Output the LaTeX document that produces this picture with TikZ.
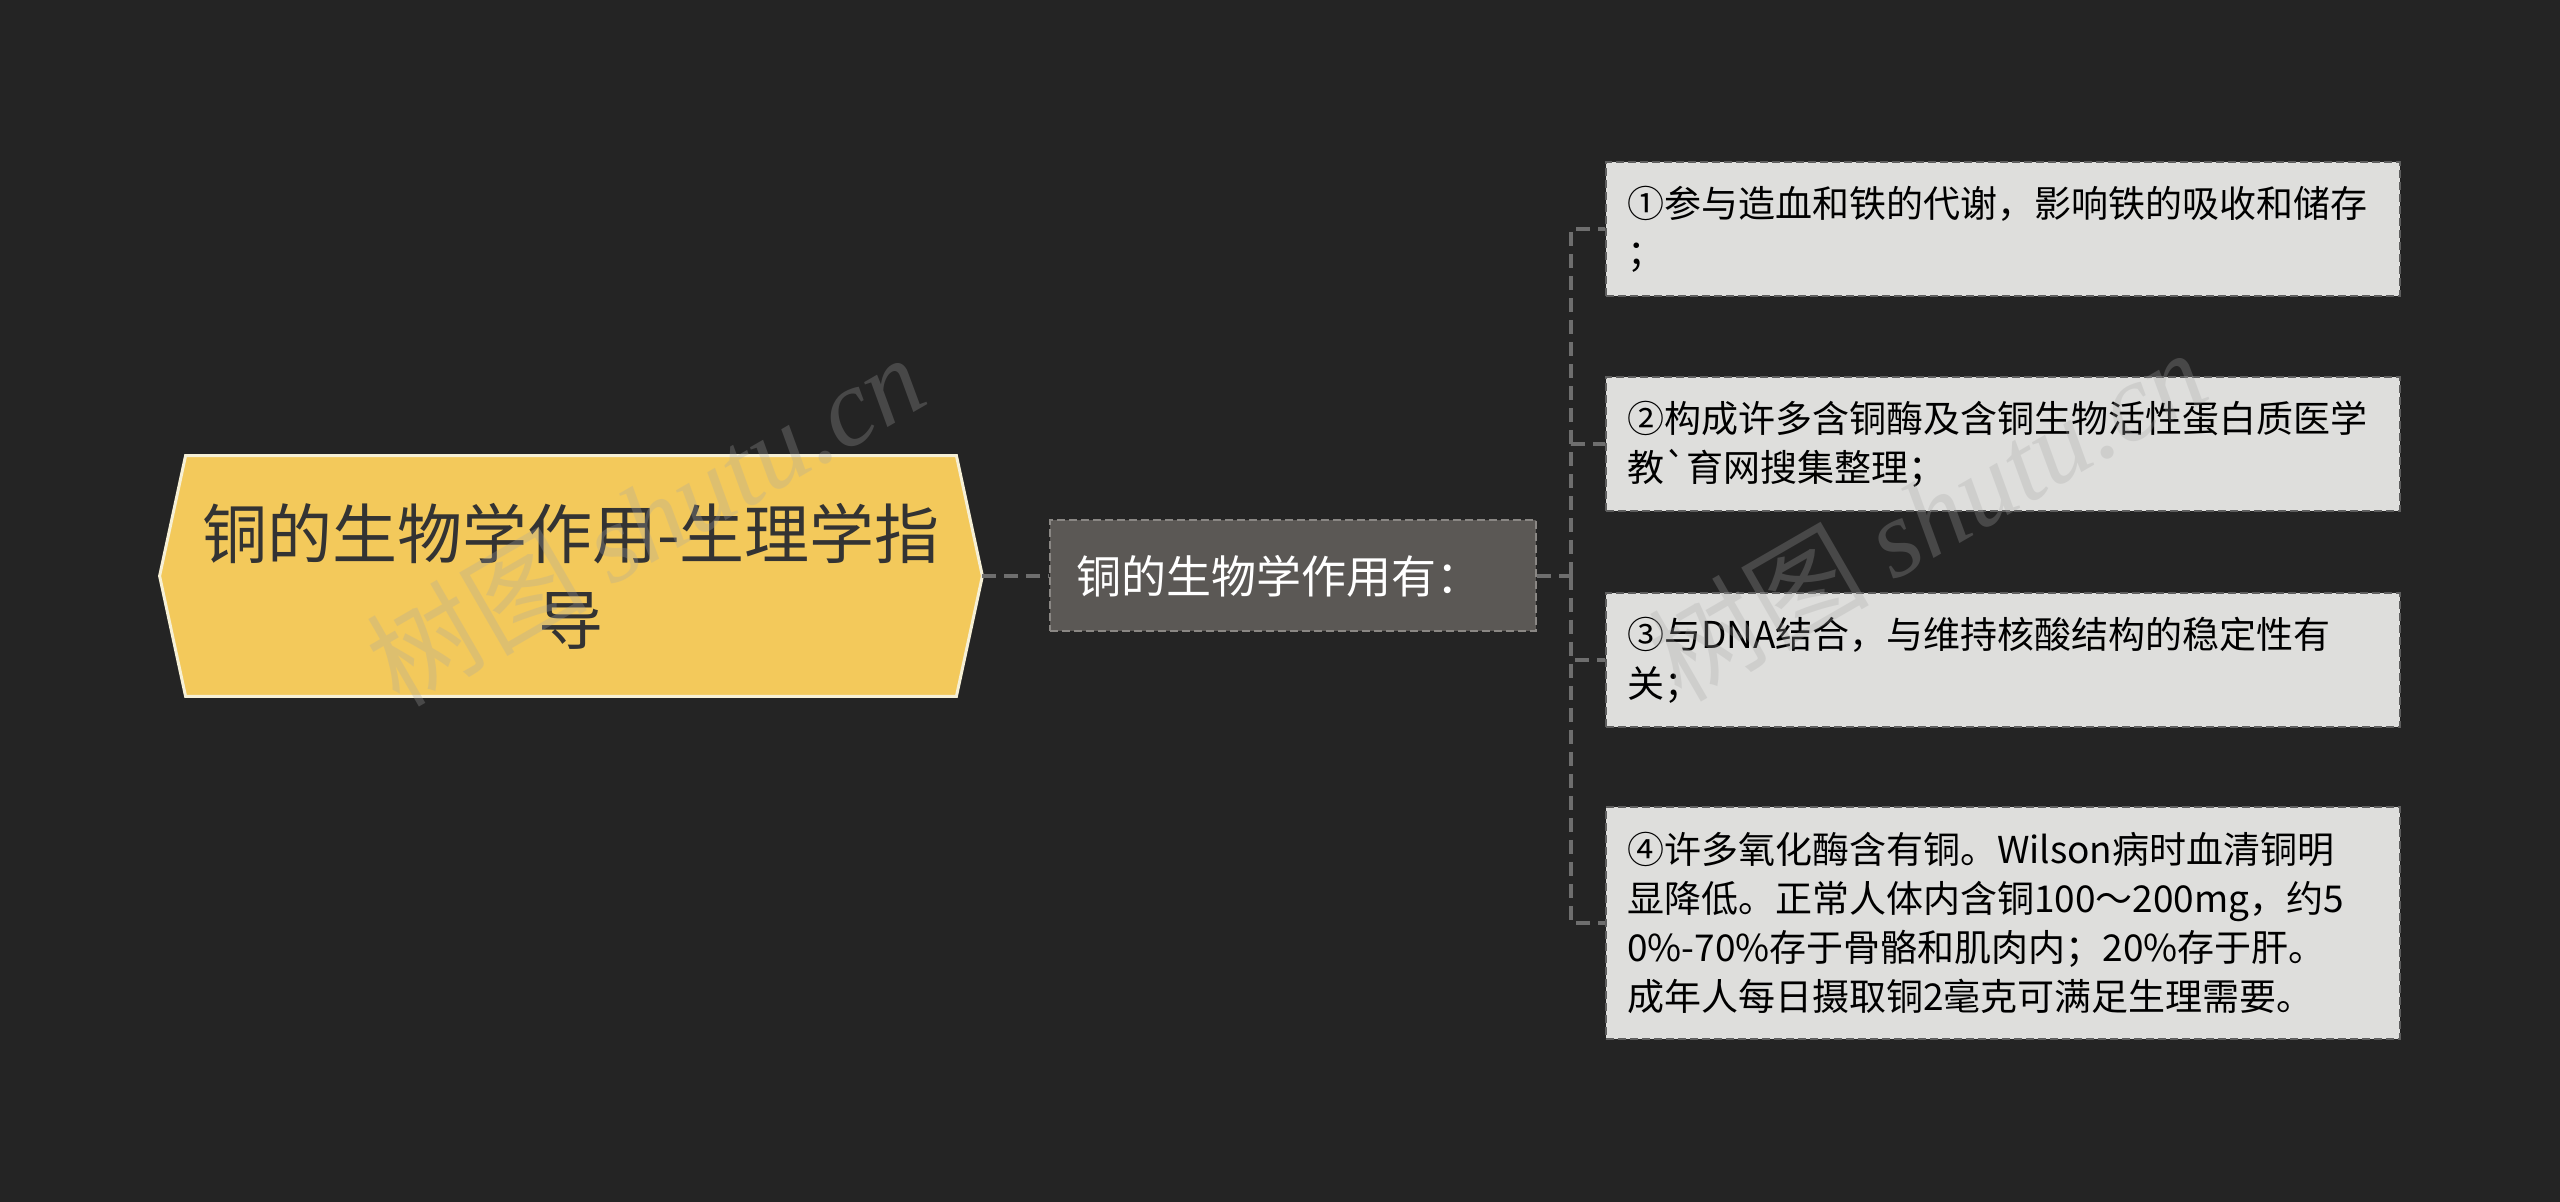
\documentclass[tikz,border=0pt]{standalone}
\usepackage{fontspec}
\setmainfont{Noto Sans CJK SC}
\newfontfamily\wmserif{Liberation Serif}
\usepackage{xcolor}
\usetikzlibrary{calc,backgrounds}
\definecolor{bg}{HTML}{242424}
\definecolor{gold}{HTML}{F3C95B}
\definecolor{goldedge}{HTML}{F6F0D6}
\definecolor{subfill}{HTML}{5B5855}
\definecolor{subedge}{HTML}{8A8784}
\definecolor{leaffill}{HTML}{DEDEDC}
\definecolor{leafedge}{HTML}{5E5E5E}
\definecolor{linkc}{HTML}{6E6E6E}

\begin{document}
\begin{tikzpicture}[x=0.5pt,y=-0.5pt,
  r/.style={inner sep=0pt,minimum width=411pt,minimum height=120pt,align=center,text=black!80,font=\fontsize{32.5pt}{43pt}\selectfont},
  sb/.style={fill=subfill,draw=subedge,dash pattern=on 4pt off 2pt,line width=1pt,text=white,inner xsep=13pt,text width=217pt,minimum height=55.5pt,align=left,font=\fontsize{22.5pt}{28pt}\selectfont},
  lf/.style={fill=leaffill,draw=leafedge,dash pattern=on 4pt off 2pt,line width=1pt,text=black,inner xsep=10.5pt,text width=376pt,align=left,anchor=west,font=\fontsize{18.5pt}{24.5pt}\selectfont},
  a/.style={draw=linkc,line width=1.6pt,dash pattern=on 7pt off 4pt},
  wm/.style={rotate=30,opacity=0.28,text=gray!70,font=\fontsize{55pt}{55pt}\selectfont}]
\node[r] (root) at (571,576) {铜的生物学作用-生理学指\\导};
\begin{scope}[on background layer]
\fill[bg] (0,0) rectangle (2560,1202);
\filldraw[fill=gold,draw=goldedge,line width=1.5pt] (root.west) -- ($(root.north west)+(26,0)$) -- ($(root.north east)+(-26,0)$) -- (root.east) -- ($(root.south east)+(-26,0)$) -- ($(root.south west)+(26,0)$) -- cycle;
\end{scope}
\node[sb] (sub) at (1293,576) {铜的生物学作用有：};
\node[lf,minimum height=67pt] (b1) at (1605,229) {①参与造血和铁的代谢，影响铁的吸收和储存\\；};
\node[lf,minimum height=67pt] (b2) at (1605,444) {②构成许多含铜酶及含铜生物活性蛋白质医学\\教\textasciigrave 育网搜集整理；};
\node[lf,minimum height=67pt] (b3) at (1605,660) {③与DNA结合，与维持核酸结构的稳定性有\\关；};
\node[lf,minimum height=116pt] (b4) at (1605,923) {④许多氧化酶含有铜。Wilson病时血清铜明\\显降低。正常人体内含铜100～200mg，约5\\0\%-70\%存于骨骼和肌肉内；20\%存于肝。\\成年人每日摄取铜2毫克可满足生理需要。};
\coordinate (fork) at (1571,576);
\draw[a] (root.east) -- (sub.west);
\draw[a] (sub.east) -- (fork);
\foreach \n in {b1,b2,b3,b4}
  \draw[a] (fork) |- (\n.west);
\node[wm] (wm1) at (645,519) {树图 {\wmserif\itshape shutu.cn}};
\node[wm] (wm2) at (1927,514) {树图 {\wmserif\itshape shutu.cn}};
\end{tikzpicture}
\end{document}
